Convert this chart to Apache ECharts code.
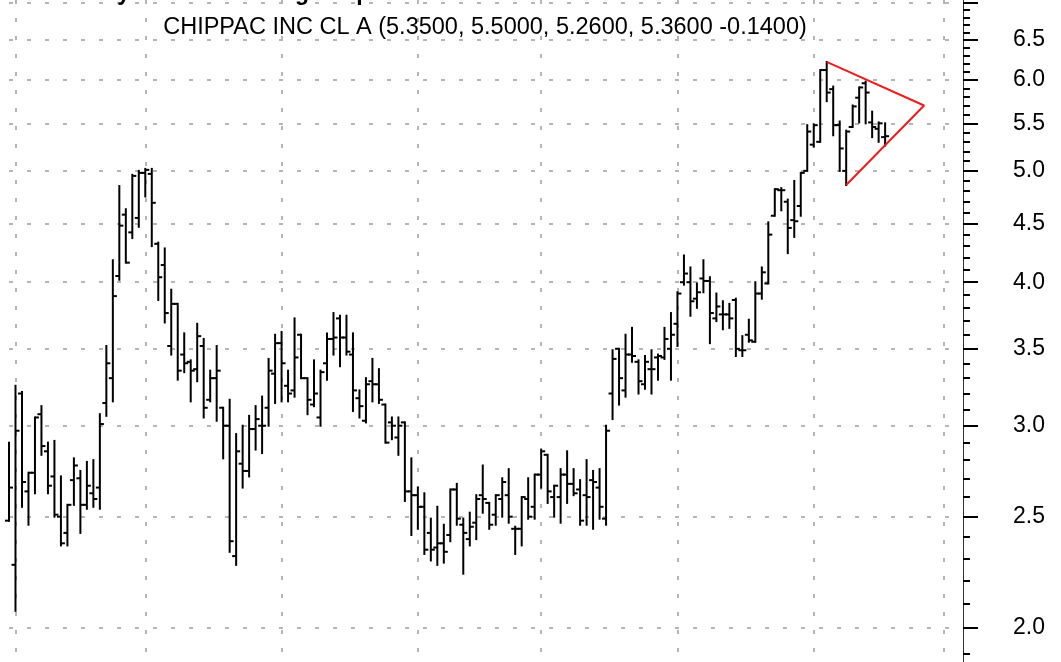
<!DOCTYPE html>
<html>
<head>
<meta charset="utf-8">
<title>CHIPPAC INC CL A</title>
<script src="https://cdn.jsdelivr.net/npm/echarts@6/dist/echarts.min.js"></script>
<style>
  html, body { margin: 0; padding: 0; background: #fff; }
  #chart { width: 1061px; height: 662px; }
</style>
</head>
<body>
<div id="chart"></div>
<script>
// daily OHLC bars, oldest first
const opens = [
  2.48, 2.27, 3.20, 2.63, 2.73, 3.07, 2.85, 2.71, 2.50, 2.42,
  2.69, 2.70, 2.56, 2.62, 2.65, 3.14, 3.30, 4.05, 4.58, 4.42,
  4.55, 4.98, 4.97, 4.32, 4.14, 3.52, 3.83, 3.46, 3.41, 3.36,
  3.52, 3.16, 3.30, 3.11, 3.00, 2.31, 2.78, 2.74, 2.98, 3.00,
  3.11, 3.33, 3.54, 3.25, 3.22, 3.60, 3.30, 3.13, 3.05, 3.40,
  3.57, 3.72, 3.58, 3.46, 3.17, 3.03, 3.28, 3.26, 3.13, 3.02,
  2.93, 3.02, 2.63, 2.61, 2.55, 2.42, 2.35, 2.37, 2.41, 2.64,
  2.46, 2.39, 2.47, 2.61, 2.57, 2.51, 2.59, 2.61, 2.44, 2.44,
  2.59, 2.55, 2.72, 2.83, 2.60, 2.60, 2.72, 2.67, 2.64, 2.61,
  2.69, 2.65, 2.49, 3.20, 3.50, 3.22, 3.46, 3.41, 3.26, 3.36,
  3.44, 3.44, 3.50, 3.68, 4.00, 4.00, 3.87, 4.03, 4.01, 3.72,
  3.75, 3.75, 3.86, 3.49, 3.60, 3.55, 3.91, 3.99, 4.57, 4.81,
  4.70, 4.53, 4.66, 5.00, 5.27, 5.30, 6.12, 5.89, 5.48, 5.00,
  5.46, 5.79, 5.96, 5.51, 5.44, 5.35
];
const highs = [
  2.90, 3.25, 3.21, 2.73, 3.05, 3.12, 2.90, 2.91, 2.71, 2.56,
  2.81, 2.74, 2.79, 2.80, 3.07, 3.52, 4.18, 4.85, 4.63, 4.96,
  5.00, 5.02, 5.02, 4.33, 4.28, 3.94, 3.83, 3.61, 3.42, 3.68,
  3.57, 3.35, 3.52, 3.11, 3.16, 2.95, 3.00, 3.06, 3.12, 3.18,
  3.43, 3.60, 3.62, 3.35, 3.72, 3.60, 3.30, 3.42, 3.35, 3.61,
  3.76, 3.74, 3.74, 3.61, 3.22, 3.30, 3.43, 3.36, 3.13, 3.05,
  3.05, 3.02, 2.81, 2.65, 2.62, 2.49, 2.55, 2.46, 2.64, 2.67,
  2.49, 2.52, 2.61, 2.77, 2.57, 2.61, 2.70, 2.75, 2.45, 2.60,
  2.70, 2.72, 2.86, 2.83, 2.66, 2.75, 2.85, 2.75, 2.69, 2.80,
  2.74, 2.75, 3.00, 3.49, 3.50, 3.60, 3.65, 3.42, 3.45, 3.49,
  3.46, 3.65, 3.76, 3.92, 4.22, 4.12, 3.99, 4.18, 4.04, 3.91,
  3.85, 3.83, 3.87, 3.59, 3.71, 4.00, 4.12, 4.51, 4.82, 4.83,
  4.72, 4.90, 4.98, 5.48, 5.49, 6.12, 6.22, 5.92, 5.52, 5.42,
  5.70, 5.91, 5.98, 5.63, 5.51, 5.50
];
const lows = [
  2.48, 2.07, 2.55, 2.46, 2.62, 2.83, 2.62, 2.50, 2.36, 2.36,
  2.56, 2.42, 2.54, 2.55, 2.54, 3.06, 3.15, 4.02, 4.16, 4.37,
  4.47, 4.75, 4.30, 3.86, 3.69, 3.46, 3.29, 3.34, 3.15, 3.28,
  3.05, 3.15, 3.03, 2.81, 2.33, 2.27, 2.65, 2.71, 2.86, 2.84,
  3.00, 3.14, 3.15, 3.15, 3.18, 3.30, 3.07, 3.12, 3.00, 3.29,
  3.46, 3.38, 3.46, 3.09, 3.05, 3.02, 3.15, 3.14, 2.90, 2.92,
  2.83, 2.58, 2.41, 2.44, 2.32, 2.29, 2.27, 2.28, 2.38, 2.46,
  2.23, 2.36, 2.39, 2.52, 2.44, 2.46, 2.50, 2.47, 2.32, 2.36,
  2.49, 2.49, 2.65, 2.57, 2.50, 2.47, 2.57, 2.61, 2.46, 2.46,
  2.44, 2.49, 2.46, 3.04, 3.13, 3.18, 3.41, 3.20, 3.23, 3.20,
  3.29, 3.43, 3.29, 3.52, 3.98, 3.74, 3.80, 3.92, 3.54, 3.70,
  3.64, 3.65, 3.45, 3.45, 3.55, 3.55, 3.87, 3.99, 4.57, 4.62,
  4.24, 4.38, 4.57, 5.00, 5.25, 5.30, 5.75, 5.37, 5.00, 4.86,
  5.46, 5.51, 5.50, 5.35, 5.30, 5.26
];
const closes = [
  2.65, 2.97, 2.68, 2.73, 3.05, 2.88, 2.66, 2.51, 2.37, 2.56,
  2.77, 2.56, 2.66, 2.59, 3.01, 3.40, 3.89, 4.48, 4.16, 4.95,
  4.98, 5.01, 4.69, 4.04, 3.76, 3.83, 3.35, 3.40, 3.35, 3.59,
  3.11, 3.30, 3.35, 3.00, 2.38, 2.85, 2.74, 2.98, 3.04, 3.00,
  3.35, 3.54, 3.40, 3.20, 3.44, 3.30, 3.16, 3.20, 3.34, 3.57,
  3.58, 3.58, 3.48, 3.22, 3.12, 3.26, 3.26, 3.16, 2.90, 3.00,
  3.00, 2.63, 2.61, 2.55, 2.34, 2.34, 2.37, 2.33, 2.64, 2.49,
  2.42, 2.45, 2.59, 2.59, 2.46, 2.61, 2.68, 2.50, 2.44, 2.60,
  2.50, 2.72, 2.85, 2.63, 2.66, 2.72, 2.67, 2.62, 2.48, 2.60,
  2.68, 2.55, 2.97, 3.43, 3.30, 3.46, 3.45, 3.28, 3.41, 3.36,
  3.45, 3.57, 3.60, 3.91, 4.07, 3.85, 3.92, 4.01, 3.76, 3.81,
  3.75, 3.72, 3.50, 3.49, 3.56, 3.91, 4.08, 4.40, 4.82, 4.81,
  4.46, 4.52, 4.98, 5.41, 5.48, 6.12, 5.85, 5.48, 5.23, 5.41,
  5.69, 5.91, 5.85, 5.46, 5.50, 5.36
];

// bar index of the first trading day of each month (vertical grid)
const monthStarts = [1, 21, 42, 63, 82, 103, 124, 144];
// empty slots kept to the right of the last bar
const slotCount = 148;

// symmetrical triangle: [bar index, price]
const triangle = [[126, 6.22], [141, 5.70], [129, 4.86]];

const gridPrices = [2.0, 2.5, 3.0, 3.5, 4.0, 4.5, 5.0, 5.5, 6.0, 6.5, 7.0];
const labelPrices = [2.0, 2.5, 3.0, 3.5, 4.0, 4.5, 5.0, 5.5, 6.0, 6.5];
const minorPrices = [];
for (let p = 19; p <= 70; p++) minorPrices.push(p / 10);

const titleText = 'Symmetrical triangle: upward breakout';
const subText = 'CHIPPAC INC CL A (5.3500, 5.5000, 5.2600, 5.3600 -0.1400)';

// price range shown top to bottom of the plot
const priceTop = 7.0425;
const priceBottom = 1.8682;

const ln = Math.log;
const categories = [];
for (let i = 0; i < slotCount; i++) categories.push(String(i));

const bars = opens.map((o, i) => [i, ln(o), ln(highs[i]), ln(lows[i]), ln(closes[i])]);

const chart = echarts.init(document.getElementById('chart'), null, { renderer: 'canvas' });

function renderBar(params, api) {
  const i = api.value(0);
  const o = api.coord([i, api.value(1)]);
  const h = api.coord([i, api.value(2)]);
  const l = api.coord([i, api.value(3)]);
  const c = api.coord([i, api.value(4)]);
  const style = { stroke: '#000', lineWidth: 2 };
  return {
    type: 'group',
    children: [
      { type: 'line', shape: { x1: h[0], y1: h[1] - 1, x2: l[0], y2: l[1] + 1 }, style },
      { type: 'line', shape: { x1: o[0] - 4, y1: o[1], x2: o[0], y2: o[1] }, style },
      { type: 'line', shape: { x1: c[0], y1: c[1], x2: c[0] + 4, y2: c[1] }, style }
    ]
  };
}

const dotted = { color: '#b5b5b5', width: 2, type: [4, 14] };
const font = '"Liberation Sans", Arial, sans-serif';

chart.setOption({
  animation: false,
  backgroundColor: '#fff',
  graphic: [
    {
      type: 'text', x: 102, y: 5, z: 10,
      style: {
        text: titleText, font: 'bold 23px ' + font, fill: '#000',
        align: 'left', verticalAlign: 'bottom', textAlign: 'left', textVerticalAlign: 'bottom'
      }
    },
    {
      type: 'text', x: 485, y: 28, z: 10,
      style: {
        text: subText, font: '23.5px ' + font, fill: '#000',
        align: 'center', verticalAlign: 'middle', textAlign: 'center', textVerticalAlign: 'middle'
      }
    }
  ],
  grid: { left: 9, right: 98, top: 0, bottom: 0 },
  xAxis: {
    type: 'category',
    data: categories,
    boundaryGap: false,
    axisLine: { show: false },
    axisTick: { show: false },
    axisLabel: { show: false },
    splitLine: {
      show: true,
      interval: (idx) => monthStarts.includes(idx),
      lineStyle: dotted
    }
  },
  yAxis: [
    {
      type: 'value',
      position: 'right',
      min: ln(priceBottom),
      max: ln(priceTop),
      axisLine: { show: true, lineStyle: { color: '#333', width: 1 } },
      axisTick: {
        show: true,
        customValues: gridPrices.map(ln),
        length: 15,
        lineStyle: { color: '#000', width: 2 }
      },
      axisLabel: {
        show: true,
        customValues: labelPrices.map(ln),
        formatter: (v) => Math.exp(v).toFixed(1),
        margin: 50,
        color: '#000',
        fontSize: 23,
        fontFamily: font
      },
      splitLine: { show: true, lineStyle: dotted }
    },
    {
      type: 'value',
      position: 'right',
      min: ln(priceBottom),
      max: ln(priceTop),
      axisLine: { show: false },
      axisTick: {
        show: true,
        customValues: minorPrices.map(ln),
        length: 7,
        lineStyle: { color: '#000', width: 2 }
      },
      axisLabel: { show: false },
      splitLine: { show: false }
    }
  ],
  series: [
    {
      type: 'custom',
      name: 'CHIPPAC INC CL A',
      renderItem: renderBar,
      data: bars,
      encode: { x: 0, y: [1, 2, 3, 4] },
      clip: false,
      z: 5
    },
    {
      type: 'line',
      data: triangle.map(([i, p]) => [i, ln(p)]),
      showSymbol: false,
      lineStyle: { color: '#ee1c1c', width: 2 },
      z: 6
    }
  ]
});
</script>
</body>
</html>
